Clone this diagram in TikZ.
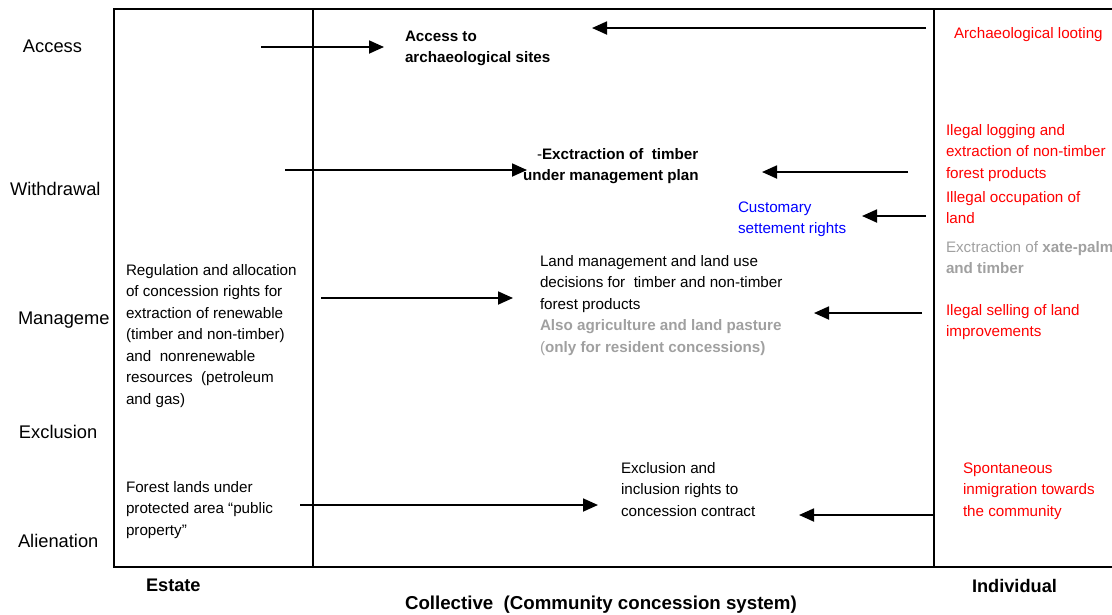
\documentclass[tikz,border=0pt]{standalone}
\usepackage{fontspec}
\setmainfont{Liberation Sans}
\usetikzlibrary{arrows.meta}
\definecolor{rd}{RGB}{255,0,0}
\definecolor{bl}{RGB}{0,0,255}
\definecolor{gr}{RGB}{160,160,160}
\begin{document}
\begin{tikzpicture}[x=1pt,y=-1pt,
  every node/.style={inner sep=0pt, outer sep=0pt, anchor=base west, align=left,
    font=\fontsize{15.2}{21.5}\selectfont},
  lab/.style={font=\fontsize{18.3}{22}\selectfont},
  bot/.style={font=\fontsize{18.2}{22}\selectfont\bfseries},
  bld/.style={font=\fontsize{15.2}{21.5}\selectfont\bfseries},
  redtxt/.style={text=rd},
  bluetxt/.style={text=bl},
  graytxt/.style={text=gr},
  frame/.style={line width=1.6pt, black},
  arr/.style={line width=1.8pt, -{Triangle[length=15pt,width=13pt]}}]
\useasboundingbox (0,0) rectangle (1112,614);
% frame
\draw[frame] (1113,9) -- (114,9) -- (114,567) -- (1113,567);
\draw[frame] (313,9) -- (313,567);
\draw[frame] (934,9) -- (934,567);
% row labels
\node[lab] (lAccess) at (23,52) {Access};
\node[lab] (lWith) at (10,195) {Withdrawal};
\node[lab] (lMan) at (18,324) {Manageme};
\node[lab] (lExcl) at (19,438) {Exclusion};
\node[lab] (lAlien) at (18,547) {Alienation};
% estate column (base anchor = baseline of the last line)
\node (regul) at (126,404) {Regulation and allocation\\of concession rights for\\extraction of renewable\\(timber and non-timber)\\and~ nonrenewable\\resources~ (petroleum\\and gas)};
\node (forest) at (126,535) {Forest lands under\\protected area “public\\property”};
% collective column
\node[bld] (access) at (405,62.5) {Access to\\archaeological sites};
\node (extr) at (523,180.5) {\hspace*{14pt}-\textbf{Exctraction of~ timber}\\\textbf{under management plan}};
\node[bluetxt] (cust) at (738,233.5) {Customary\\settement rights};
\node (landm) at (540,352) {Land management and land use\\decisions for~ timber and non-timber\\forest products\\\textcolor{gr}{\textbf{Also agriculture and land pasture}}\\\textcolor{gr}{(\textbf{only for resident concessions)}}};
\node (exclr) at (621,516) {Exclusion and\\inclusion rights to\\concession contract};
% individual column
\node[redtxt] (loot) at (954,38) {Archaeological looting};
\node[redtxt] (logg) at (946,178) {Ilegal logging and\\extraction of non-timber\\forest products};
\node[redtxt] (occ) at (946,223.5) {Illegal occupation of\\land};
\node[graytxt] (xate) at (946,273.5) {Exctraction of \textbf{xate-palm}\\\textbf{and timber}};
\node[redtxt] (sell) at (946,336.5) {Ilegal selling of land\\improvements};
\node[redtxt] (spont) at (963,516) {Spontaneous\\inmigration towards\\the community};
% bottom labels
\node[bot] (estate) at (146,591) {Estate};
\node[bot] (indiv) at (972,592) {Individual};
\node[bot, font=\fontsize{18.7}{22}\selectfont\bfseries] (coll) at (405,609) {Collective~ (Community concession system)};
% arrows
\coordinate (a1s) at (261,47);  \coordinate (a1e) at (384,47);
\coordinate (a2s) at (926,28);  \coordinate (a2e) at (592,28);
\coordinate (a3s) at (285,170); \coordinate (a3e) at (527,170);
\coordinate (a4s) at (908,172); \coordinate (a4e) at (762,172);
\coordinate (a5s) at (926,216); \coordinate (a5e) at (862,216);
\coordinate (a6s) at (321,298); \coordinate (a6e) at (513,298);
\coordinate (a7s) at (922,313); \coordinate (a7e) at (814,313);
\coordinate (a8s) at (300,505); \coordinate (a8e) at (598,505);
\coordinate (a9s) at (933,515); \coordinate (a9e) at (799,515);
\draw[arr] (a1s) -- (a1e);
\draw[arr] (a2s) -- (a2e);
\draw[arr] (a3s) -- (a3e);
\draw[arr] (a4s) -- (a4e);
\draw[arr] (a5s) -- (a5e);
\draw[arr] (a6s) -- (a6e);
\draw[arr] (a7s) -- (a7e);
\draw[arr] (a8s) -- (a8e);
\draw[arr] (a9s) -- (a9e);
\end{tikzpicture}
\end{document}
